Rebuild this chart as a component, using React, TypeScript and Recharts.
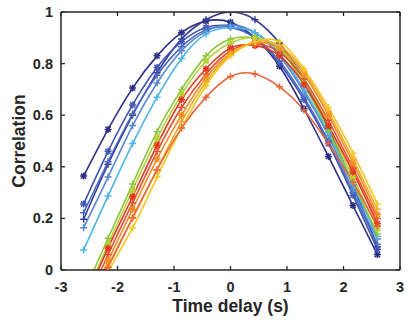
import { LineChart, Line, XAxis, YAxis } from "recharts";

// time delays where the markers sit (s)
const delays = [-2.6, -2.167, -1.733, -1.3, -0.867, -0.433, 0, 0.433, 0.867, 1.3, 1.733, 2.167, 2.6];

const xTicks = [-3, -2, -1, 0, 1, 2, 3];
const yTicks = [0, 0.2, 0.4, 0.6, 0.8, 1];

// correlation curves, blue group first, warm group on top
const navy1 = [0.364, 0.545, 0.705, 0.83, 0.92, 0.965, 0.96, 0.9, 0.79, 0.625, 0.44, 0.25, 0.06];
const navy2 = [0.197, 0.41, 0.6, 0.765, 0.895, 0.97, 1.0, 0.97, 0.88, 0.74, 0.55, 0.33, 0.09];
const blue3 = [0.256, 0.46, 0.64, 0.785, 0.885, 0.94, 0.945, 0.9, 0.8, 0.66, 0.49, 0.29, 0.08];
const blue4 = [0.222, 0.42, 0.605, 0.755, 0.865, 0.93, 0.94, 0.9, 0.81, 0.67, 0.5, 0.3, 0.1];
const blue5 = [0.164, 0.36, 0.56, 0.725, 0.85, 0.925, 0.95, 0.92, 0.83, 0.69, 0.52, 0.31, 0.12];
const cyan6 = [0.078, 0.287, 0.49, 0.67, 0.82, 0.915, 0.94, 0.92, 0.84, 0.7, 0.53, 0.33, 0.13];
const green7 = [-0.09, 0.123, 0.333, 0.536, 0.7, 0.83, 0.895, 0.9, 0.855, 0.72, 0.54, 0.34, 0.14];
const lime8 = [-0.12, 0.1, 0.31, 0.51, 0.68, 0.81, 0.88, 0.9, 0.86, 0.74, 0.56, 0.36, 0.16];
const red9 = [-0.13, 0.085, 0.284, 0.484, 0.66, 0.78, 0.86, 0.87, 0.83, 0.72, 0.56, 0.38, 0.18];
const redOrange10 = [-0.16, 0.06, 0.26, 0.459, 0.63, 0.76, 0.85, 0.875, 0.845, 0.74, 0.58, 0.395, 0.2];
const orange11 = [-0.19, 0.035, 0.235, 0.43, 0.6, 0.745, 0.84, 0.88, 0.86, 0.76, 0.6, 0.415, 0.215];
const amber12 = [-0.21, 0.015, 0.2, 0.39, 0.575, 0.73, 0.835, 0.885, 0.87, 0.77, 0.615, 0.43, 0.235];
const yellow13 = [-0.23, -0.01, 0.163, 0.36, 0.55, 0.715, 0.83, 0.885, 0.885, 0.78, 0.63, 0.453, 0.256];
const low14 = [-0.18, 0.01, 0.203, 0.388, 0.55, 0.67, 0.75, 0.76, 0.71, 0.62, 0.49, 0.34, 0.17];

const series = [
    { key: "navy1", values: navy1, color: "#2c2d82", mark: "star" },
    { key: "navy2", values: navy2, color: "#373c99", mark: "plus" },
    { key: "blue3", values: blue3, color: "#4155b1", mark: "star" },
    { key: "blue4", values: blue4, color: "#4a69c2", mark: "plus" },
    { key: "blue5", values: blue5, color: "#5985d2", mark: "plus" },
    { key: "cyan6", values: cyan6, color: "#4cb4e8", mark: "plus" },
    { key: "green7", values: green7, color: "#8cc63f", mark: "plus" },
    { key: "lime8", values: lime8, color: "#b2d236", mark: "star" },
    { key: "red9", values: red9, color: "#e2351f", mark: "star" },
    { key: "redOrange10", values: redOrange10, color: "#e9502a", mark: "plus" },
    { key: "orange11", values: orange11, color: "#f08c25", mark: "star" },
    { key: "amber12", values: amber12, color: "#f5aa28", mark: "plus" },
    { key: "yellow13", values: yellow13, color: "#f6c61f", mark: "plus" },
    { key: "low14", values: low14, color: "#e8663a", mark: "plus" },
];

const data = delays.map((x, i) => {
    const row: Record<string, number> = { x };
    series.forEach((s) => {
        row[s.key] = s.values[i];
    });
    return row;
});

const AXIS = "#262626";
const FONT = "'Liberation Sans', Arial, sans-serif";

function marker(props: any, color: string, mark: string) {
    const { cx, cy, index } = props;
    if (cx == null || cy == null || isNaN(cy)) return <g key={index} />;
    const r = 3.5;
    const d = 2.6;
    return (
        <g key={index} stroke={color} strokeWidth={1.5}>
            <line x1={cx - r} x2={cx + r} y1={cy} y2={cy} />
            <line x1={cx} x2={cx} y1={cy - r} y2={cy + r} />
            {mark === "star" && (
                <>
                    <line x1={cx - d} x2={cx + d} y1={cy - d} y2={cy + d} />
                    <line x1={cx - d} x2={cx + d} y1={cy + d} y2={cy - d} />
                </>
            )}
        </g>
    );
}

function BottomTick(props: any) {
    const { x, y, payload } = props;
    return (
        <g>
            <line x1={x} x2={x} y1={y} y2={y - 4} stroke={AXIS} strokeWidth={1.3} />
            <text x={x} y={y + 22} textAnchor="middle" fill={AXIS} fontSize={14.5} fontWeight="bold" fontFamily={FONT}>
                {payload.value}
            </text>
        </g>
    );
}

function TopTick(props: any) {
    const { x, y } = props;
    return <line x1={x} x2={x} y1={y} y2={y + 4} stroke={AXIS} strokeWidth={1.3} />;
}

function LeftTick(props: any) {
    const { x, y, payload } = props;
    return (
        <g>
            <line x1={x} x2={x + 4} y1={y} y2={y} stroke={AXIS} strokeWidth={1.3} />
            <text x={x - 8} y={y + 5} textAnchor="end" fill={AXIS} fontSize={14.5} fontWeight="bold" fontFamily={FONT}>
                {payload.value}
            </text>
        </g>
    );
}

function RightTick(props: any) {
    const { x, y } = props;
    return <line x1={x} x2={x - 4} y1={y} y2={y} stroke={AXIS} strokeWidth={1.3} />;
}

function XLabel(props: any) {
    const vb = props.viewBox;
    return (
        <text x={vb.x + vb.width / 2} y={vb.y + 42} textAnchor="middle" fill={AXIS} fontSize={17.5} fontWeight="bold" fontFamily={FONT}>
            Time delay (s)
        </text>
    );
}

function YLabel(props: any) {
    const vb = props.viewBox;
    const cx = vb.x + 19;
    const cy = vb.y + vb.height / 2;
    return (
        <text x={cx} y={cy} dy="0.35em" transform={`rotate(-90 ${cx} ${cy})`} textAnchor="middle" fill={AXIS} fontSize={17.5} fontWeight="bold" fontFamily={FONT}>
            Correlation
        </text>
    );
}

export default function App() {
    return (
        <div style={{ position: "absolute", left: 0, top: 0, background: "#fff" }}>
            <LineChart width={408} height={323} data={data} margin={{ top: 11, right: 7, bottom: 0, left: 0 }}>
                <XAxis
                    dataKey="x"
                    type="number"
                    domain={[-3, 3]}
                    ticks={xTicks}
                    interval={0}
                    height={53}
                    tickSize={0}
                    tickMargin={0}
                    tickLine={false}
                    axisLine={{ stroke: AXIS, strokeWidth: 1.5 }}
                    tick={<BottomTick />}
                    label={<XLabel />}
                />
                <XAxis
                    xAxisId="top"
                    orientation="top"
                    dataKey="x"
                    type="number"
                    domain={[-3, 3]}
                    ticks={xTicks}
                    interval={0}
                    height={1}
                    tickSize={0}
                    tickMargin={0}
                    tickLine={false}
                    axisLine={{ stroke: AXIS, strokeWidth: 1.5 }}
                    tick={<TopTick />}
                />
                <YAxis
                    type="number"
                    domain={[0, 1]}
                    ticks={yTicks}
                    interval={0}
                    allowDataOverflow
                    width={61}
                    tickSize={0}
                    tickMargin={0}
                    tickLine={false}
                    axisLine={{ stroke: AXIS, strokeWidth: 1.5 }}
                    tick={<LeftTick />}
                    label={<YLabel />}
                />
                <YAxis
                    yAxisId="right"
                    orientation="right"
                    type="number"
                    domain={[0, 1]}
                    ticks={yTicks}
                    interval={0}
                    allowDataOverflow
                    width={1}
                    tickSize={0}
                    tickMargin={0}
                    tickLine={false}
                    axisLine={{ stroke: AXIS, strokeWidth: 1.5 }}
                    tick={<RightTick />}
                />
                {series.map((s) => (
                    <Line
                        key={s.key}
                        dataKey={s.key}
                        type="natural"
                        stroke={s.color}
                        strokeWidth={1.6}
                        dot={(p: any) => marker(p, s.color, s.mark)}
                        activeDot={false}
                        isAnimationActive={false}
                    />
                ))}
                {/* invisible series so the top and right frame axes get drawn */}
                <Line
                    xAxisId="top"
                    yAxisId="right"
                    dataKey="navy2"
                    stroke="none"
                    dot={false}
                    activeDot={false}
                    legendType="none"
                    isAnimationActive={false}
                />
            </LineChart>
        </div>
    );
}
